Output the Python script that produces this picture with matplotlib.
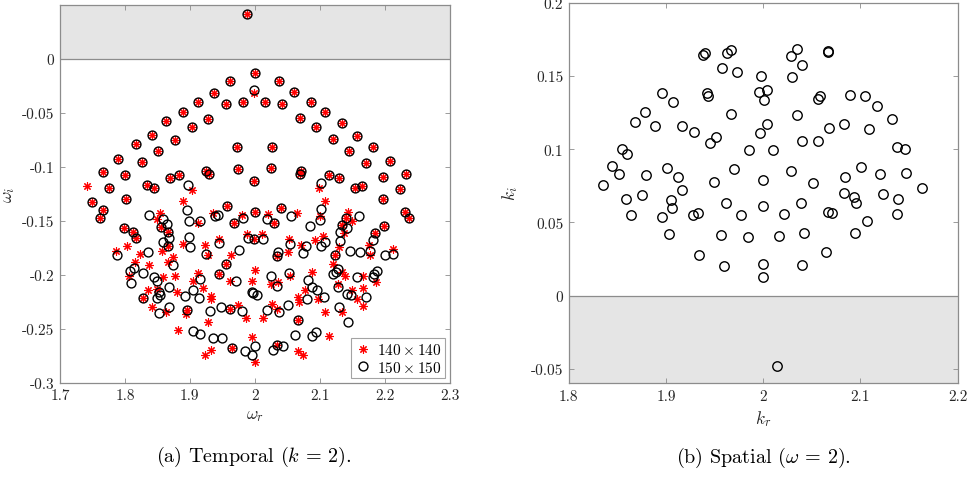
import matplotlib
matplotlib.use("Agg")
import matplotlib.pyplot as plt
from matplotlib.markers import MarkerStyle

plt.rcParams['font.family'] = 'serif'
plt.rcParams['font.serif'] = ['cmr10']
plt.rcParams['mathtext.fontset'] = 'cm'
plt.rcParams['axes.formatter.use_mathtext'] = True

# ---------------- (a) Temporal: eigenvalues shared by both grids ----------------
shared_wr = [1.9886, 2.0005, 1.962, 2.037, 1.937, 2.061, 1.913, 1.956, 1.9815, 2.016,
             2.0416, 2.086, 1.890, 1.9285, 2.0698, 2.108, 1.864, 1.904, 2.094, 2.134,
             1.8413, 1.877, 1.817, 1.8505, 1.972, 1.790, 1.826, 1.9738, 1.7658, 1.8006,
             1.8695, 1.8834, 1.925, 1.9296, 1.9994, 1.7755, 1.8346, 1.845, 1.749, 1.8017,
             1.7667, 1.762, 1.9568, 1.9686, 2.0005, 1.799, 1.812, 1.817, 1.855, 1.867,
             1.9995, 2.1202, 2.157, 2.1453, 2.1828, 2.0267, 2.172, 2.209, 2.0256, 2.072,
             2.0698, 2.115, 2.130, 2.198, 2.2331, 2.1545, 2.1648, 2.2239, 2.197, 2.040,
             2.2316, 2.2377, 2.0297, 2.1402, 2.1997, 2.1854, 2.0339, 1.9558, 1.9455, 1.8273,
             1.896, 1.962, 1.9645, 2.0672, 2.0339, 1.867, 2.134, 2.123]
shared_wi = [0.0417, -0.013, -0.0204, -0.0204, -0.0315, -0.031, -0.040, -0.0423, -0.0404, -0.0404,
             -0.042, -0.0398, -0.049, -0.0556, -0.0546, -0.0497, -0.058, -0.063, -0.063, -0.0596,
             -0.0701, -0.075, -0.0793, -0.0852, -0.0818, -0.0923, -0.0954, -0.1019, -0.1052, -0.1074,
             -0.1102, -0.108, -0.104, -0.107, -0.113, -0.1197, -0.1167, -0.1197, -0.1324, -0.130,
             -0.1404, -0.147, -0.136, -0.152, -0.142, -0.1565, -0.1605, -0.166, -0.1558, -0.1605,
             -0.1667, -0.0747, -0.0719, -0.0855, -0.0818, -0.0818, -0.0963, -0.0948, -0.101, -0.1035,
             -0.107, -0.1074, -0.110, -0.109, -0.107, -0.1197, -0.1173, -0.1204, -0.130, -0.1383,
             -0.142, -0.147, -0.152, -0.147, -0.155, -0.161, -0.1827, -0.1898, -0.1991, -0.2213,
             -0.2324, -0.2315, -0.2679, -0.2414, -0.2648, -0.1734, -0.1534, -0.182]

# eigenvalues only on the 140 x 140 grid
only140_wr = [1.999, 1.742, 1.9039, 1.890, 1.854, 1.849, 1.9126, 1.936, 1.98, 1.890,
              1.924, 1.9455, 1.9877, 1.963, 1.7863, 1.8027, 1.8233, 1.8567, 1.8736, 2.0997,
              2.108, 2.0205, 2.0647, 2.1006, 2.1433, 2.1495, 2.138, 2.011, 2.0533, 2.072,
              2.093, 2.105, 2.0518, 2.1295, 2.1765, 2.2126, 1.8156, 1.8068, 1.8376, 1.8669,
              1.9285, 1.8592, 1.8772, 1.913, 1.9045, 1.962, 2.0005, 1.9953, 1.836, 1.849,
              1.8798, 1.9198, 1.9327, 1.9327, 1.8422, 1.8633, 1.8937, 1.9738, 1.9866, 1.9285,
              1.8813, 1.9327, 1.9234, 1.9953, 2.0005, 2.0247, 2.0364, 2.0544, 2.0262, 2.0339,
              2.0123, 2.0672, 2.0683, 2.0775, 2.0878, 2.098, 2.1083, 2.115, 2.1202, 2.134,
              2.139, 2.128, 2.1495, 2.1664, 2.1674, 2.157, 2.1674, 2.134, 2.1776, 2.1869,
              2.0749, 2.0672]
only140_wi = [-0.0315, -0.1173, -0.1213, -0.132, -0.1429, -0.148, -0.152, -0.1426, -0.145, -0.171,
              -0.172, -0.1667, -0.162, -0.1815, -0.1775, -0.1734, -0.1806, -0.178, -0.183, -0.1194,
              -0.1318, -0.1435, -0.1426, -0.1457, -0.142, -0.150, -0.161, -0.162, -0.1667, -0.172,
              -0.1673, -0.1636, -0.1784, -0.1744, -0.172, -0.176, -0.1883, -0.2012, -0.1905, -0.1883,
              -0.182, -0.2015, -0.2006, -0.1981, -0.2058, -0.2058, -0.195, -0.2053, -0.2136, -0.213,
              -0.216, -0.2123, -0.2195, -0.2225, -0.2299, -0.234, -0.2361, -0.2278, -0.2398, -0.2432,
              -0.2506, -0.2694, -0.274, -0.2577, -0.2809, -0.2083, -0.2062, -0.2006, -0.2269, -0.2315,
              -0.2398, -0.2207, -0.2253, -0.2136, -0.1975, -0.2222, -0.2346, -0.2568, -0.1898, -0.1975,
              -0.2012, -0.2083, -0.2136, -0.2012, -0.212, -0.2222, -0.2284, -0.234, -0.182, -0.2068,
              -0.274, -0.2701]

# eigenvalues only on the 150 x 150 grid
only150_wr = [1.999, 1.8977, 2.102, 1.895, 1.8376, 1.859, 1.898, 1.9157, 1.9388, 1.943,
              1.9815, 1.865, 1.8685, 1.859, 1.898, 1.900, 1.945, 1.989, 1.9758, 1.9245,
              1.7873, 1.8351, 2.1026, 2.0185, 2.056, 2.1006, 2.0852, 2.1612, 2.1418, 2.1314,
              2.1314, 2.1828, 2.0132, 2.0544, 2.079, 2.1017, 2.108, 2.074, 2.0364, 2.1468,
              2.1622, 2.1776, 2.2126, 2.2007, 1.8079, 1.814, 1.809, 1.8273, 1.8746, 1.8453,
              1.8499, 1.8685, 1.9157, 1.9707, 1.853, 1.849, 1.854, 1.9054, 1.8926, 1.9146,
              1.9953, 1.998, 2.003, 1.853, 1.8685, 1.9311, 1.948, 1.980, 1.9045, 1.9157,
              1.9353, 1.950, 1.985, 1.9953, 2.0005, 2.0247, 2.0349, 2.0533, 2.0185, 2.0374,
              2.0508, 2.0826, 2.0811, 2.0878, 2.0955, 2.1068, 2.0621, 2.0878, 2.094, 2.1212,
              2.1253, 2.1289, 2.1289, 2.1418, 2.148, 2.1581, 2.1715, 2.1295, 2.1442, 2.1817,
              2.1838, 2.188, 2.0287, 2.0441]
only150_wi = [-0.0287, -0.1164, -0.1148, -0.1401, -0.1442, -0.148, -0.150, -0.150, -0.1457, -0.145,
              -0.147, -0.1528, -0.166, -0.1697, -0.165, -0.1738, -0.1707, -0.166, -0.1766, -0.1806,
              -0.182, -0.1784, -0.1389, -0.148, -0.1457, -0.1488, -0.155, -0.1451, -0.1568, -0.1605,
              -0.1682, -0.1673, -0.1667, -0.1713, -0.1728, -0.173, -0.170, -0.1796, -0.1784, -0.1775,
              -0.179, -0.1775, -0.1806, -0.182, -0.196, -0.1938, -0.2074, -0.1981, -0.1907, -0.2022,
              -0.2053, -0.2114, -0.2037, -0.2053, -0.216, -0.2213, -0.219, -0.2139, -0.2197, -0.2213,
              -0.216, -0.217, -0.219, -0.2355, -0.2293, -0.2336, -0.2299, -0.2336, -0.2516, -0.2546,
              -0.2583, -0.2583, -0.2701, -0.274, -0.2654, -0.2006, -0.2105, -0.1981, -0.2321, -0.2346,
              -0.2278, -0.2044, -0.2222, -0.2114, -0.2139, -0.2207, -0.2556, -0.2568, -0.2525, -0.1991,
              -0.197, -0.1944, -0.2114, -0.2176, -0.219, -0.2022, -0.2201, -0.2299, -0.2438, -0.2022,
              -0.1991, -0.196, -0.2691, -0.2654]

wr_140 = shared_wr + only140_wr
wi_140 = shared_wi + only140_wi
wr_150 = shared_wr + only150_wr
wi_150 = shared_wi + only150_wi

# ---------------- (b) Spatial ----------------
kr = [1.9383, 1.940, 1.9624, 1.9668, 2.0343, 2.0285, 2.0668, 2.0662, 1.9579, 1.9733,
      2.0395, 1.9976, 2.0295, 1.8962, 1.9075, 1.9418, 1.9429, 1.9959, 2.0041, 2.0007,
      2.0583, 2.0565, 2.0894, 2.1045, 2.1169, 1.8787, 1.8681, 1.889, 1.9164, 1.9291,
      1.9665, 2.0343, 2.0041, 1.9969, 2.0678, 2.0826, 2.1089, 2.132, 1.9452, 1.9511,
      2.0401, 2.0565, 1.8545, 1.860, 2.1377, 2.1456, 1.9856, 2.0103, 1.8442, 1.852,
      1.8356, 1.8791, 1.9007, 1.9126, 1.9168, 1.8589, 1.8757, 1.864, 1.9051, 1.9059,
      1.8962, 1.9031, 1.9281, 1.9326, 1.949, 1.9699, 1.9617, 1.9771, 1.9565, 1.9342,
      1.96, 1.984, 1.9997, 1.9997, 1.9997, 1.9997, 2.0282, 2.0213, 2.0161, 2.0384,
      2.0421, 2.0401, 2.0508, 2.0641, 2.0662, 2.0709, 2.084, 2.0829, 2.1001, 2.0935,
      2.095, 2.0939, 2.1069, 2.12, 2.1233, 2.1388, 2.1377, 2.1464, 2.1634, 2.0138]
ki = [0.1644, 0.1655, 0.1658, 0.168, 0.1685, 0.1635, 0.1673, 0.1662, 0.1557, 0.1525,
      0.1573, 0.1498, 0.1491, 0.1384, 0.1324, 0.1384, 0.1361, 0.1393, 0.1406, 0.1338,
      0.1361, 0.1342, 0.1372, 0.1361, 0.1297, 0.1256, 0.1185, 0.116, 0.1158, 0.1119,
      0.124, 0.1233, 0.1174, 0.1112, 0.1146, 0.1171, 0.1139, 0.121, 0.1046, 0.1084,
      0.1057, 0.1057, 0.1005, 0.0970, 0.1018, 0.1005, 0.0993, 0.0993, 0.0886, 0.0829,
      0.0758, 0.0822, 0.0875, 0.0813, 0.0719, 0.0658, 0.0687, 0.0548, 0.0651, 0.0596,
      0.0534, 0.042, 0.0548, 0.0566, 0.0776, 0.0863, 0.0632, 0.055, 0.0416, 0.0274,
      0.0201, 0.0402, 0.0788, 0.0612, 0.0219, 0.0128, 0.0849, 0.0557, 0.0406, 0.0635,
      0.0425, 0.0212, 0.0769, 0.0299, 0.0573, 0.0562, 0.081, 0.0699, 0.0879, 0.0673,
      0.063, 0.0429, 0.0512, 0.0833, 0.0692, 0.0658, 0.0555, 0.084, 0.0738, -0.0479]

xticks_a = [1.7, 1.8, 1.9, 2.0, 2.1, 2.2, 2.3]
xtlab_a = ['1.7', '1.8', '1.9', '2', '2.1', '2.2', '2.3']
yticks_a = [-0.3, -0.25, -0.2, -0.15, -0.1, -0.05, 0]
ytlab_a = ['-0.3', '-0.25', '-0.2', '-0.15', '-0.1', '-0.05', '0']
xticks_b = [1.8, 1.9, 2.0, 2.1, 2.2]
xtlab_b = ['1.8', '1.9', '2', '2.1', '2.2']
yticks_b = [-0.05, 0, 0.05, 0.1, 0.15, 0.2]
ytlab_b = ['-0.05', '0', '0.05', '0.1', '0.15', '0.2']

SPINE = '#8c8c8c'
GRAYFILL = '#e5e5e5'
TXT = '#262626'

fig = plt.figure(figsize=(9.69, 4.81), dpi=100)
axA = fig.add_axes([60 / 969, 97 / 481, 389.5 / 969, 378.3 / 481])
axB = fig.add_axes([568.7 / 969, 96.7 / 481, 389.0 / 969, 380.3 / 481])

star = MarkerStyle((8, 2, 0))


def style(ax):
    for s in ax.spines.values():
        s.set_color(SPINE)
        s.set_linewidth(0.9)
    ax.tick_params(direction='in', top=True, right=True, length=3.5, width=0.6,
                   color=SPINE, labelcolor=TXT, labelsize=11, pad=4)


# (a)
axA.axhspan(0, 0.05, color=GRAYFILL, zorder=0, lw=0)
axA.axhline(0, color=SPINE, lw=0.9, zorder=1)
axA.plot(wr_140, wi_140, linestyle='none', marker=star, ms=6.0, mew=0.8,
         color='red', label=r'$140\times140$', zorder=2)
axA.plot(wr_150, wi_150, linestyle='none', marker='o', ms=6.4, mew=1.0,
         mfc='none', mec='black', label=r'$150\times150$', zorder=3)
axA.set_xlim(1.7, 2.3)
axA.set_ylim(-0.3, 0.05)
axA.set_xticks(xticks_a)
axA.set_xticklabels(xtlab_a)
axA.set_yticks(yticks_a)
axA.set_yticklabels(ytlab_a)
axA.set_xlabel(r'$\omega_r$', fontsize=12.5, color=TXT, labelpad=4)
axA.set_ylabel(r'$\omega_i$', fontsize=12.5, color=TXT)
axA.yaxis.set_label_coords(-43.0 / 389.5, 0.5)
style(axA)
leg = axA.legend(loc='lower right', fontsize=11, frameon=True, fancybox=False,
                 edgecolor=SPINE, borderaxespad=0.3, handletextpad=0.4,
                 handlelength=1.0, borderpad=0.25, labelspacing=0.15)
leg.get_frame().set_linewidth(0.8)

# (b)
axB.axhspan(-0.06, 0, color=GRAYFILL, zorder=0, lw=0)
axB.axhline(0, color=SPINE, lw=0.9, zorder=1)
axB.plot(kr, ki, linestyle='none', marker='o', ms=6.8, mew=1.0,
         mfc='none', mec='black', zorder=3)
axB.set_xlim(1.8, 2.2)
axB.set_ylim(-0.06, 0.2)
axB.set_xticks(xticks_b)
axB.set_xticklabels(xtlab_b)
axB.set_yticks(yticks_b)
axB.set_yticklabels(ytlab_b)
axB.set_xlabel(r'$k_r$', fontsize=12.5, color=TXT, labelpad=4)
axB.set_ylabel(r'$k_i$', fontsize=12.5, color=TXT)
axB.yaxis.set_label_coords(-48.7 / 389.0, 0.5)
style(axB)

fig.text(254 / 969, 1 - 457 / 481, r'(a) Temporal ($k$ = 2).', ha='center', va='center',
         fontsize=14.5, color='black')
fig.text(763 / 969, 1 - 458 / 481, r'(b) Spatial ($\omega$ = 2).', ha='center', va='center',
         fontsize=14.5, color='black')

fig.savefig('out.png', dpi=100)
